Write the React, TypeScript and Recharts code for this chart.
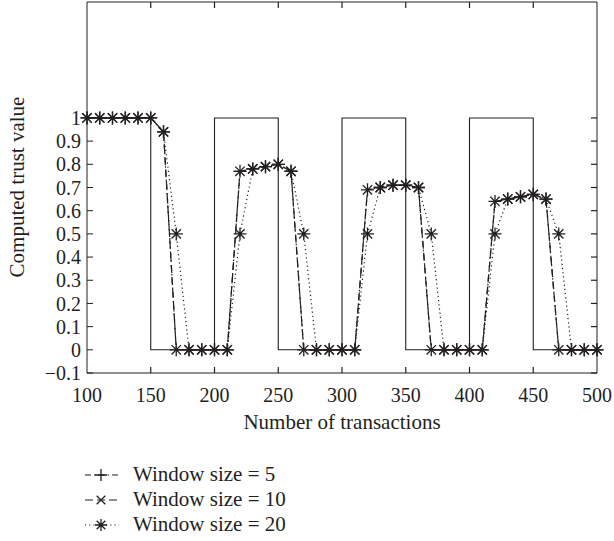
import React from "react";
import { LineChart, Line, XAxis, YAxis, Label, ReferenceLine } from "recharts";

// transactions sampled every 10
const transactions = [
  100, 110, 120, 130, 140, 150, 160, 170, 180, 190, 200, 210, 220, 230, 240, 250, 260, 270, 280, 290, 300,
  310, 320, 330, 340, 350, 360, 370, 380, 390, 400, 410, 420, 430, 440, 450, 460, 470, 480, 490, 500,
];
const window5 = [
  1, 1, 1, 1, 1, 1, 0.94, 0, 0, 0, 0, 0, 0.77, 0.78, 0.79, 0.8, 0.77, 0, 0, 0, 0,
  0, 0.69, 0.7, 0.71, 0.71, 0.7, 0, 0, 0, 0, 0, 0.64, 0.65, 0.66, 0.67, 0.65, 0, 0, 0, 0,
];
const window10 = [
  1, 1, 1, 1, 1, 1, 0.94, 0, 0, 0, 0, 0, 0.77, 0.78, 0.79, 0.8, 0.77, 0, 0, 0, 0,
  0, 0.69, 0.7, 0.71, 0.71, 0.7, 0, 0, 0, 0, 0, 0.64, 0.65, 0.66, 0.67, 0.65, 0, 0, 0, 0,
];
const window20 = [
  1, 1, 1, 1, 1, 1, 0.94, 0.5, 0, 0, 0, 0, 0.5, 0.78, 0.79, 0.8, 0.77, 0.5, 0, 0, 0,
  0, 0.5, 0.7, 0.71, 0.71, 0.7, 0.5, 0, 0, 0, 0, 0.5, 0.65, 0.66, 0.67, 0.65, 0.5, 0, 0, 0,
];

// actual behaviour (square wave)
const behaviourX = [100, 150, 200, 250, 300, 350, 400, 450, 500];
const behaviourY = [1, 0, 1, 0, 1, 0, 1, 0, 0];

const xTicks = [100, 150, 200, 250, 300, 350, 400, 450, 500];
const yTicks = [-0.1, 0, 0.1, 0.2, 0.3, 0.4, 0.5, 0.6, 0.7, 0.8, 0.9, 1];

const X_DOMAIN = [100, 500];
const Y_DOMAIN = [-0.1, 1.5];

const INK = "#231f20";
const FONT = "'Liberation Serif', 'DejaVu Serif', serif";

const W = 614;
const H = 541;
const M = { top: 2, right: 17, bottom: 138, left: 0 };
const Y_AXIS_W = 87;
const X_AXIS_H = 30;
const PLOT_W = W - M.left - M.right - Y_AXIS_W;
const PLOT_H = H - M.top - M.bottom - X_AXIS_H;
const TICK_PX = 6;
// tick length converted to data units so the frame ticks go through the chart scales
const dxTick = (TICK_PX * (X_DOMAIN[1] - X_DOMAIN[0])) / PLOT_W;
const dyTick = (TICK_PX * (Y_DOMAIN[1] - Y_DOMAIN[0])) / PLOT_H;

const toRows = (ys: number[]) => transactions.map((x, i) => ({ x, y: ys[i] }));
const behaviour = behaviourX.map((x, i) => ({ x, y: behaviourY[i] }));

type Kind = "plus" | "cross" | "star";

const Glyph = ({ cx, cy, kind, r = 6.5 }: { cx: number; cy: number; kind: Kind; r?: number }) => {
  const d = r * 0.72;
  const plus = `M${cx - r},${cy}H${cx + r}M${cx},${cy - r}V${cy + r}`;
  const cross = `M${cx - d},${cy - d}L${cx + d},${cy + d}M${cx - d},${cy + d}L${cx + d},${cy - d}`;
  const path = kind === "plus" ? plus : kind === "cross" ? cross : plus + cross;
  return <path d={path} stroke={INK} strokeWidth={1.3} fill="none" />;
};

const dotOf = (kind: Kind) => (p: any) =>
  p.cx == null ? <g key={p.index} /> : <Glyph key={p.index} cx={p.cx} cy={p.cy} kind={kind} />;

const series = [
  { name: "Window size = 5", data: toRows(window5), dash: "6 3 1.5 3", kind: "plus" as Kind },
  { name: "Window size = 10", data: toRows(window10), dash: "8 4", kind: "cross" as Kind },
  { name: "Window size = 20", data: toRows(window20), dash: "1.2 3", kind: "star" as Kind },
];

const fmtY = (v: number) => (v < 0 ? "\u2212" + Math.abs(v).toFixed(1) : v === 0 || v === 1 ? String(v) : v.toFixed(1));

export default function App() {
  const tickStyle = { fill: INK, fontSize: 20, fontFamily: FONT };
  const innerX = xTicks.slice(1, -1);
  return (
    <div style={{ position: "absolute", left: 0, top: 0, width: W, height: H, background: "#fff" }}>
      <LineChart width={W} height={H} data={toRows(window10)} margin={M}>
        <XAxis
          dataKey="x"
          type="number"
          domain={X_DOMAIN}
          ticks={xTicks}
          interval={0}
          stroke={INK}
          tickLine={false}
          tickMargin={9}
          height={X_AXIS_H}
          tick={tickStyle}
        >
          <Label
            content={({ viewBox }: any) => (
              <text x={viewBox.x + viewBox.width / 2} y={429} textAnchor="middle" fill={INK} fontSize={21} fontFamily={FONT}>
                Number of transactions
              </text>
            )}
          />
        </XAxis>
        <YAxis
          type="number"
          domain={Y_DOMAIN}
          ticks={yTicks}
          interval={0}
          stroke={INK}
          tickSize={-TICK_PX}
          tickMargin={12}
          width={Y_AXIS_W}
          tick={tickStyle}
          tickFormatter={fmtY}
        >
          <Label
            content={() => (
              <text
                x={24}
                y={187}
                transform="rotate(-90 24 187)"
                textAnchor="middle"
                fill={INK}
                fontSize={21}
                fontFamily={FONT}
              >
                Computed trust value
              </text>
            )}
          />
        </YAxis>
        {/* box frame: top and right edges */}
        <ReferenceLine y={Y_DOMAIN[1]} stroke={INK} />
        <ReferenceLine x={X_DOMAIN[1]} stroke={INK} />
        {/* inward ticks on bottom, top and right edges */}
        {innerX.map((t) => (
          <ReferenceLine
            key={"b" + t}
            ifOverflow="visible"
            stroke={INK}
            strokeWidth={1.2}
            segment={[{ x: t, y: Y_DOMAIN[0] }, { x: t, y: Y_DOMAIN[0] + dyTick }]}
          />
        ))}
        {innerX.map((t) => (
          <ReferenceLine
            key={"t" + t}
            ifOverflow="visible"
            stroke={INK}
            strokeWidth={1.2}
            segment={[{ x: t, y: Y_DOMAIN[1] }, { x: t, y: Y_DOMAIN[1] - dyTick }]}
          />
        ))}
        {yTicks.map((t) => (
          <ReferenceLine
            key={"r" + t}
            ifOverflow="visible"
            stroke={INK}
            strokeWidth={1.2}
            segment={[{ x: X_DOMAIN[1], y: t }, { x: X_DOMAIN[1] - dxTick, y: t }]}
          />
        ))}
        <Line data={behaviour} dataKey="y" type="stepAfter" stroke={INK} strokeWidth={1.1} dot={false} isAnimationActive={false} />
        {series.map((s) => (
          <Line
            key={s.name}
            data={s.data}
            dataKey="y"
            type="linear"
            stroke={INK}
            strokeWidth={1.2}
            strokeDasharray={s.dash}
            dot={dotOf(s.kind)}
            isAnimationActive={false}
          />
        ))}
      </LineChart>
      <div style={{ position: "absolute", left: 83, top: 462, fontFamily: FONT, fontSize: 21, color: INK }}>
        {series.map((s) => (
          <div key={s.name} style={{ display: "flex", alignItems: "center", height: 25 }}>
            <svg width={38} height={20} style={{ marginRight: 12 }}>
              <line x1={2} y1={10} x2={36} y2={10} stroke={INK} strokeWidth={1.2} strokeDasharray={s.dash} />
              <Glyph cx={18} cy={10} kind={s.kind} r={6} />
            </svg>
            <span>{s.name}</span>
          </div>
        ))}
      </div>
    </div>
  );
}
